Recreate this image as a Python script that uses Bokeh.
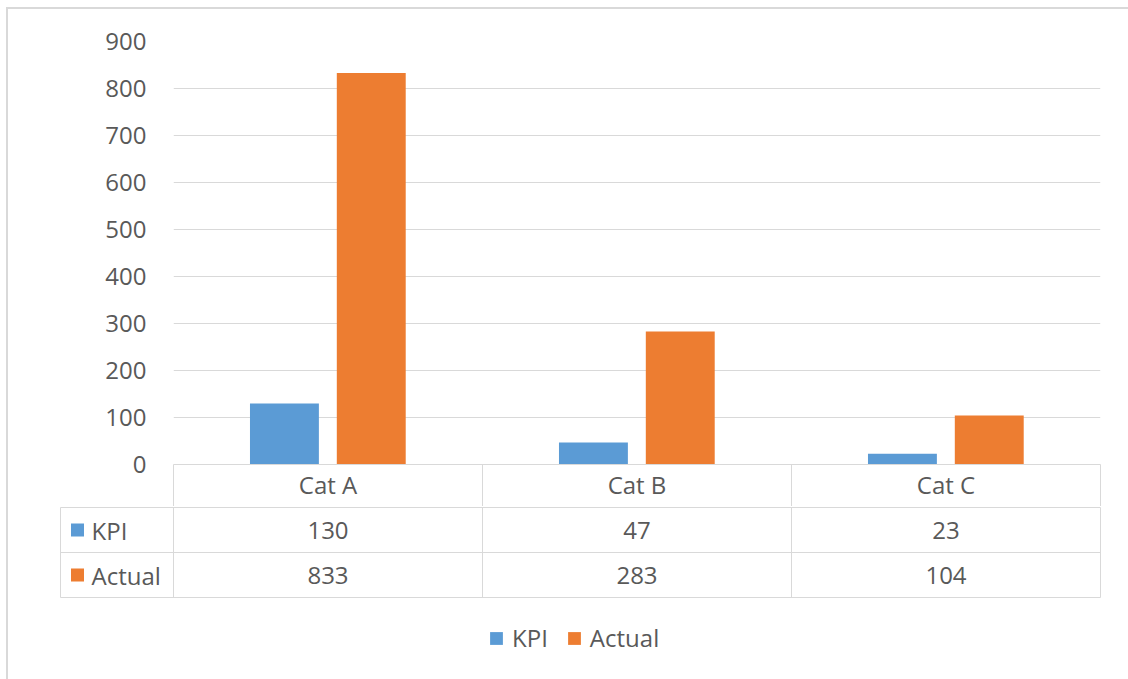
from bokeh.plotting import figure
from bokeh.models import (ColumnDataSource, Range1d, FixedTicker, Legend, LegendItem)
from bokeh.transform import dodge
from bokeh.layouts import column
from bokeh.core.properties import value
from bokeh.embed import file_html
from bokeh.resources import INLINE

# ---- data -------------------------------------------------------------
categories = ["Cat A", "Cat B", "Cat C"]
series = ["KPI", "Actual"]
kpi = [130, 47, 23]
actual = [833, 283, 104]
y_ticks = [0, 100, 200, 300, 400, 500, 600, 700, 800, 900]

# ---- style ------------------------------------------------------------
FONT = "Open Sans"
FS = "24px"
TEXT = "#595959"
LINE = "#D9D9D9"
BLUE = "#5B9BD5"
ORANGE = "#ED7D31"
colors = [BLUE, ORANGE]

n = len(categories)
centers = [i + 0.5 for i in range(n)]   # one unit per category slot
src = ColumnDataSource(dict(pos=centers, kpi=kpi, actual=actual))

# ---- column chart -----------------------------------------------------
chart = figure(
    x_range=Range1d(0, n),
    y_range=Range1d(0, 900),
    width=1120, height=497,
    min_border_left=165, min_border_right=28,
    min_border_top=32, min_border_bottom=42,
    frame_align=False,
    output_backend="svg", toolbar_location=None,
    outline_line_color=None, background_fill_color="white",
)

chart.vbar(x=dodge("pos", -0.141), top="kpi", width=0.223,
           source=src, fill_color=BLUE, line_color=None)
chart.vbar(x=dodge("pos", 0.140), top="actual", width=0.223,
           source=src, fill_color=ORANGE, line_color=None)

yax = chart.yaxis[0]
yax.ticker = FixedTicker(ticks=y_ticks)
yax.axis_line_color = None
yax.major_tick_line_color = None
yax.minor_tick_line_color = None
yax.major_label_standoff = 21
yax.major_label_text_font = FONT
yax.major_label_text_font_size = FS
yax.major_label_text_color = TEXT

chart.xgrid.grid_line_color = None
chart.ygrid.ticker = FixedTicker(ticks=y_ticks)
chart.ygrid.grid_line_color = LINE
chart.ygrid.grid_line_width = 1

# header row of the data table: category names with cell dividers
xax = chart.xaxis[0]
xax.ticker = FixedTicker(ticks=centers, minor_ticks=list(range(n + 1)))
xax.major_label_overrides = {c: name for c, name in zip(centers, categories)}
xax.axis_line_color = LINE
xax.major_tick_in = 0
xax.major_tick_out = 0
xax.major_tick_line_color = None
xax.minor_tick_in = 0
xax.minor_tick_out = 42
xax.minor_tick_line_color = LINE
xax.major_label_standoff = -39
xax.major_label_text_font = FONT
xax.major_label_text_font_size = FS
xax.major_label_text_color = TEXT

# ---- data table rows and legend --------------------------------------
u = 1 / 309          # category units per pixel
row_h = 45           # pixels per table row
left_edge = -113 * u

table = figure(
    x_range=Range1d(-165 * u, n + 28 * u),
    y_range=Range1d(2 - 172 / row_h, 2 + 1 / row_h),
    width=1120, height=173,
    min_border=0, min_border_left=0, min_border_right=0,
    min_border_top=0, min_border_bottom=0,
    frame_align=False,
    x_axis_location=None, y_axis_location=None,
    output_backend="svg", toolbar_location=None,
    outline_line_color=None, background_fill_color="white",
)
table.xgrid.grid_line_color = None
table.ygrid.grid_line_color = None

rows = len(series)
# horizontal cell borders
table.segment(x0=[left_edge] * (rows + 1), x1=[n] * (rows + 1),
              y0=list(range(rows + 1)), y1=list(range(rows + 1)),
              line_color=LINE, line_width=1)
# vertical cell borders
table.segment(x0=[left_edge] + list(range(n + 1)), x1=[left_edge] + list(range(n + 1)),
              y0=[0] * (n + 2), y1=[rows] * (n + 2),
              line_color=LINE, line_width=1)

key_renderers = []
for r, (name, vals, col) in enumerate(zip(series, [kpi, actual], colors)):
    yc = rows - r - 0.5
    key = table.rect(x=[left_edge + 17 * u], y=[yc], width=13, height=13,
                     width_units="screen", height_units="screen",
                     fill_color=col, line_color=None)
    key_renderers.append(key)
    table.text(x=[left_edge + 31 * u], y=[yc], text=[name],
               text_font=value(FONT), text_font_size=FS, text_color=TEXT,
               text_align="left", text_baseline="middle")
    table.text(x=centers, y=[yc] * n,
               text=[str(v) for v in vals],
               text_font=value(FONT), text_font_size=FS, text_color=TEXT,
               text_align="center", text_baseline="middle")

legend = Legend(
    items=[LegendItem(label=s, renderers=[rr]) for s, rr in zip(series, key_renderers)],
    orientation="horizontal",
    location=(480, 25),
    glyph_width=16, glyph_height=16,
    label_standoff=8, spacing=18, padding=0, margin=0,
    border_line_color=None, background_fill_alpha=0,
    label_text_font=FONT, label_text_font_size=FS, label_text_color=TEXT,
)
table.add_layout(legend)

page = column(chart, table, margin=(7, 0, 0, 6),
              styles={"border-left": "2px solid #D9D9D9",
                      "border-top": "2px solid #D9D9D9"})

open("out.html", "w").write(file_html(page, INLINE))
